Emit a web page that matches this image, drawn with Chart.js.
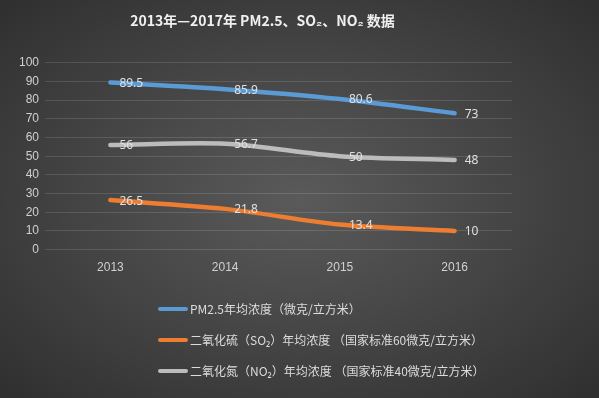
<!DOCTYPE html>
<html>
<head>
<meta charset="utf-8">
<script src="https://cdn.jsdelivr.net/npm/chart.js@4"></script>
<style>
  html, body { margin: 0; padding: 0; }
  body {
    width: 599px; height: 398px; overflow: hidden; position: relative;
    background: radial-gradient(ellipse at 50% 50%, #5a5a5a 0%, #474747 45%, #2f2f2f 100%);
    font-family: "Noto Sans CJK SC", "Noto Sans", sans-serif;
  }
  #wrap { position: absolute; left: 0; top: 0; width: 599px; height: 398px; }
  #legend { position: absolute; left: 158px; top: 293px; color: #dcdcdc; font-size: 12px; }
  #legend .item { display: flex; align-items: center; height: 31px; }
  #legend .swatch { width: 30px; height: 4px; border-radius: 2px; margin-right: 2px; }
</style>
</head>
<body>
<div id="wrap"><canvas id="chart" width="599" height="398"></canvas></div>
<div id="legend"></div>
<script>
const TITLE = '2013年—2017年 PM2.5、SO₂、NO₂ 数据';
const years = ['2013', '2014', '2015', '2016'];
const pm25 = [89.5, 85.9, 80.6, 73];
const so2 = [26.5, 21.8, 13.4, 10];
const no2 = [56, 56.7, 50, 48];
const seriesNames = [
  'PM2.5年均浓度（微克/立方米）',
  '二氧化硫（SO₂）年均浓度 （国家标准60微克/立方米）',
  '二氧化氮（NO₂）年均浓度 （国家标准40微克/立方米）'
];
const COLORS = ['#5b9bd5', '#ed7d31', '#bcbcbc'];

const pointLabels = {
  id: 'pointLabels',
  afterDatasetsDraw(chart) {
    const { ctx } = chart;
    ctx.save();
    ctx.font = '12px "Noto Sans", sans-serif';
    ctx.fillStyle = '#e0e0e0';
    ctx.textBaseline = 'middle';
    chart.data.datasets.forEach((ds, di) => {
      const meta = chart.getDatasetMeta(di);
      meta.data.forEach((pt, i) => {
        const last = i === meta.data.length - 1;
        ctx.fillText(String(ds.data[i]), pt.x + (last ? 10 : 9), pt.y + 1);
      });
    });
    ctx.restore();
  }
};

const chart = new Chart(document.getElementById('chart'), {
  type: 'line',
  data: {
    labels: years,
    datasets: [pm25, so2, no2].map((d, i) => ({
      label: seriesNames[i],
      data: d,
      borderColor: COLORS[i],
      backgroundColor: COLORS[i],
      borderWidth: 4.5,
      borderCapStyle: 'round',
      tension: 0.3,
      pointRadius: 0
    }))
  },
  options: {
    responsive: false,
    animation: false,
    layout: { padding: { left: 13, right: 87, top: 10, bottom: 120 } },
    plugins: {
      legend: { display: false },
      tooltip: { enabled: false },
      title: {
        display: true,
        text: TITLE,
        color: '#f0f0f0',
        font: { size: 14, weight: 'bold', family: '"Noto Sans CJK SC", sans-serif' },
        padding: { top: 2, bottom: 34 }
      }
    },
    scales: {
      x: {
        offset: true,
        grid: { display: false },
        border: { display: false },
        ticks: { color: '#d0d0d0', font: { size: 12 }, padding: 3 }
      },
      y: {
        min: 0,
        max: 100,
        ticks: { stepSize: 10, color: '#d0d0d0', font: { size: 12 }, padding: 6 },
        grid: { color: 'rgba(255,255,255,0.13)', lineWidth: 1 },
        border: { display: false }
      }
    }
  },
  plugins: [pointLabels]
});

const legendEl = document.getElementById('legend');
chart.data.datasets.forEach(ds => {
  const row = document.createElement('div');
  row.className = 'item';
  const sw = document.createElement('span');
  sw.className = 'swatch';
  sw.style.background = ds.borderColor;
  const txt = document.createElement('span');
  txt.textContent = ds.label;
  row.appendChild(sw);
  row.appendChild(txt);
  legendEl.appendChild(row);
});
</script>
</body>
</html>
